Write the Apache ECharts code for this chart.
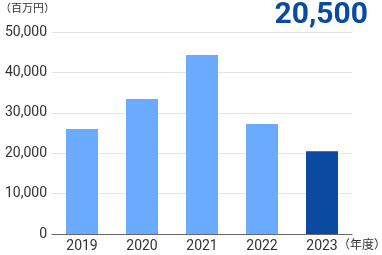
<!DOCTYPE html>
<html><head><meta charset="utf-8">
<script src="https://cdn.jsdelivr.net/npm/echarts@6/dist/echarts.min.js"></script>
<style>html,body{margin:0;padding:0;background:#fff}#c{width:382px;height:255px}</style>
</head><body><div id="c"></div>
<script>
const categories = ['2019','2020','2021','2022','2023'];
const values = [26000, 33400, 44300, 27200, 20500];
const yTicks = [0, 10000, 20000, 30000, 40000, 50000];
const unitLabel = '（百万円）';
const yearLabel = '（年度）';
const headline = '20,500';

const chart = echarts.init(document.getElementById('c'), null, {renderer:'canvas'});
chart.setOption({
  animation:false,
  grid:{left:52, right:30, top:32, bottom:21, containLabel:false},
  xAxis:{type:'category', data:categories,
    axisLine:{lineStyle:{color:'#666', width:1}}, axisTick:{show:false},
    axisLabel:{color:'#333', fontSize:14, fontFamily:'Roboto, "Noto Sans CJK JP", sans-serif', margin:6}},
  yAxis:{type:'value', min:yTicks[0], max:yTicks[yTicks.length-1], interval:10000,
    axisLine:{show:false}, axisTick:{show:false},
    splitLine:{lineStyle:{color:'#e3e3e3', width:1}},
    axisLabel:{color:'#333', fontSize:14, fontFamily:'Roboto, "Noto Sans CJK JP", sans-serif', margin:5,
      formatter:v=>v.toLocaleString('en-US')}},
  series:[{type:'bar', barWidth:32,
    data:values.map((v,i)=>({value:v, itemStyle:{color: i===values.length-1 ? '#0a4aa1' : '#6aabff'}}))}],
  graphic:[
    {type:'text', left:0, top:2, style:{text:unitLabel, fontSize:11, fill:'#333', fontFamily:'"Noto Sans CJK JP", sans-serif'}},
    {type:'text', x:368, y:15, style:{text:headline, align:'right', verticalAlign:'middle', fontSize:30, fontWeight:'bold', fill:'#0a4aa1', fontFamily:'Roboto, sans-serif'}},
    {type:'text', left:338, top:238, style:{text:yearLabel, fontSize:12, fill:'#333', fontFamily:'"Noto Sans CJK JP", sans-serif'}}
  ]
});
</script></body></html>
